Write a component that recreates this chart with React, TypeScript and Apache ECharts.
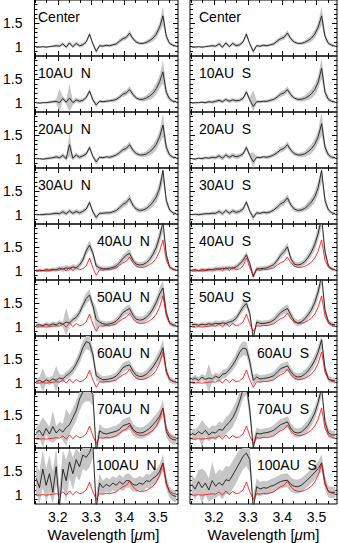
import React, { useEffect, useRef } from "react";
import * as echarts from "echarts";

// ---------------- data ----------------
const wavelength = [3.135, 3.145, 3.155, 3.165, 3.175, 3.185, 3.195, 3.205, 3.215, 3.225, 3.235, 3.245, 3.255, 3.265, 3.275, 3.285, 3.295, 3.305, 3.315, 3.325, 3.335, 3.345, 3.355, 3.365, 3.375, 3.385, 3.395, 3.405, 3.415, 3.425, 3.435, 3.445, 3.455, 3.465, 3.475, 3.485, 3.495, 3.505, 3.515, 3.525, 3.535, 3.545, 3.555];

const xTickLabels = ["3.2", "3.3", "3.4", "3.5"];
const yTickLabels = ["1", "1.5"];

const panelLabelsN = ["Center", "10AU  N", "20AU  N", "30AU  N", "40AU  N", "50AU  N", "60AU  N", "70AU  N", "100AU  N"];
const panelLabelsS = ["Center", "10AU  S", "20AU  S", "30AU  S", "40AU  S", "50AU  S", "60AU  S", "70AU  S", "100AU  S"];

// central spectrum (also the red reference in outer panels)
const fluxCenter = [0.99, 0.99, 1.00, 0.99, 1.00, 1.01, 1.02, 1.01, 1.06, 0.99, 1.08, 1.00, 1.07, 1.02, 1.04, 1.10, 1.27, 1.06, 0.90, 1.02, 1.01, 1.03, 1.02, 1.04, 1.06, 1.12, 1.17, 1.20, 1.29, 1.17, 1.10, 1.07, 1.07, 1.09, 1.13, 1.18, 1.27, 1.42, 1.66, 1.22, 1.07, 1.03, 1.01];
const errCenter = [0.02, 0.02, 0.02, 0.02, 0.02, 0.02, 0.03, 0.03, 0.04, 0.04, 0.04, 0.04, 0.04, 0.04, 0.04, 0.04, 0.05, 0.04, 0.05, 0.03, 0.03, 0.03, 0.03, 0.03, 0.04, 0.05, 0.05, 0.05, 0.06, 0.05, 0.04, 0.03, 0.03, 0.04, 0.05, 0.07, 0.09, 0.10, 0.20, 0.08, 0.04, 0.03, 0.02];

// north side
const flux10N = [1.00, 0.99, 1.00, 1.00, 1.01, 1.02, 1.03, 1.00, 1.09, 1.01, 1.10, 1.00, 1.06, 1.03, 1.05, 1.11, 1.25, 1.06, 0.95, 1.03, 1.02, 1.03, 1.04, 1.05, 1.07, 1.12, 1.18, 1.21, 1.28, 1.18, 1.10, 1.07, 1.07, 1.10, 1.14, 1.20, 1.30, 1.45, 1.66, 1.22, 1.08, 1.03, 1.02];
const err10N = [0.02, 0.02, 0.02, 0.02, 0.03, 0.03, 0.04, 0.30, 0.05, 0.05, 0.30, 0.05, 0.05, 0.05, 0.04, 0.05, 0.06, 0.05, 0.06, 0.03, 0.03, 0.03, 0.03, 0.04, 0.04, 0.05, 0.06, 0.06, 0.07, 0.06, 0.04, 0.04, 0.05, 0.06, 0.08, 0.10, 0.12, 0.14, 0.25, 0.10, 0.05, 0.03, 0.03];
const flux20N = [1.00, 1.00, 0.99, 1.00, 1.01, 1.02, 1.04, 1.02, 1.07, 1.00, 1.30, 1.01, 1.08, 1.03, 1.06, 1.10, 1.24, 1.05, 0.93, 1.03, 1.02, 1.04, 1.03, 1.05, 1.08, 1.13, 1.19, 1.22, 1.30, 1.18, 1.11, 1.08, 1.08, 1.10, 1.15, 1.21, 1.31, 1.47, 1.72, 1.24, 1.08, 1.03, 1.02];
const err20N = [0.02, 0.02, 0.02, 0.03, 0.03, 0.03, 0.04, 0.04, 0.05, 0.05, 0.25, 0.05, 0.05, 0.05, 0.05, 0.05, 0.06, 0.05, 0.06, 0.03, 0.03, 0.03, 0.04, 0.04, 0.04, 0.05, 0.06, 0.06, 0.07, 0.06, 0.05, 0.04, 0.05, 0.06, 0.08, 0.10, 0.12, 0.14, 0.25, 0.10, 0.05, 0.03, 0.03];
const flux30N = [1.00, 1.00, 1.00, 1.01, 1.01, 1.02, 1.03, 1.02, 1.06, 1.02, 1.08, 1.03, 1.07, 1.04, 1.07, 1.12, 1.26, 1.06, 0.94, 1.03, 1.03, 1.04, 1.04, 1.06, 1.09, 1.15, 1.22, 1.26, 1.35, 1.20, 1.12, 1.09, 1.10, 1.13, 1.19, 1.27, 1.38, 1.57, 1.95, 1.30, 1.10, 1.04, 1.02];
const err30N = [0.02, 0.02, 0.03, 0.03, 0.03, 0.03, 0.04, 0.04, 0.05, 0.05, 0.05, 0.05, 0.05, 0.05, 0.05, 0.05, 0.06, 0.05, 0.06, 0.04, 0.03, 0.04, 0.04, 0.04, 0.05, 0.06, 0.07, 0.07, 0.08, 0.06, 0.05, 0.05, 0.05, 0.06, 0.08, 0.10, 0.12, 0.15, 0.25, 0.10, 0.05, 0.03, 0.03];
const flux40N = [1.00, 1.01, 1.00, 1.02, 1.01, 1.03, 1.02, 1.05, 1.03, 1.06, 1.04, 1.08, 1.06, 1.12, 1.23, 1.42, 1.55, 1.38, 1.10, 1.06, 1.04, 1.04, 1.05, 1.07, 1.10, 1.17, 1.26, 1.33, 1.37, 1.22, 1.14, 1.12, 1.13, 1.17, 1.24, 1.35, 1.50, 1.73, 2.05, 1.33, 1.08, 1.03, 1.01];
const err40N = [0.03, 0.03, 0.03, 0.04, 0.04, 0.04, 0.05, 0.05, 0.06, 0.06, 0.06, 0.06, 0.06, 0.07, 0.08, 0.09, 0.10, 0.08, 0.08, 0.05, 0.05, 0.05, 0.05, 0.05, 0.06, 0.07, 0.08, 0.08, 0.09, 0.07, 0.06, 0.06, 0.06, 0.07, 0.08, 0.10, 0.12, 0.15, 0.22, 0.10, 0.05, 0.04, 0.03];
const flux50N = [1.03, 1.04, 1.02, 1.05, 1.03, 1.06, 1.04, 1.08, 1.05, 1.10, 1.08, 1.15, 1.20, 1.30, 1.46, 1.60, 1.68, 1.45, 1.15, 1.10, 1.06, 1.05, 1.06, 1.08, 1.12, 1.20, 1.30, 1.35, 1.39, 1.25, 1.16, 1.14, 1.15, 1.20, 1.27, 1.38, 1.52, 1.70, 1.83, 1.30, 1.08, 1.04, 1.02];
const err50N = [0.04, 0.04, 0.04, 0.05, 0.05, 0.05, 0.06, 0.06, 0.06, 0.30, 0.07, 0.07, 0.08, 0.09, 0.10, 0.12, 0.12, 0.10, 0.25, 0.06, 0.06, 0.06, 0.06, 0.06, 0.07, 0.08, 0.08, 0.09, 0.09, 0.08, 0.07, 0.07, 0.07, 0.08, 0.09, 0.10, 0.12, 0.14, 0.18, 0.10, 0.06, 0.05, 0.04];
const flux60N = [1.02, 1.05, 1.01, 1.06, 1.03, 1.08, 1.05, 1.10, 1.08, 1.15, 1.20, 1.28, 1.40, 1.55, 1.75, 1.88, 1.85, 1.60, 1.15, 1.10, 1.06, 1.07, 1.08, 1.10, 1.14, 1.22, 1.32, 1.36, 1.38, 1.25, 1.16, 1.13, 1.14, 1.18, 1.25, 1.34, 1.45, 1.58, 1.75, 1.25, 1.07, 1.03, 1.01];
const err60N = [0.06, 0.07, 0.30, 0.07, 0.08, 0.08, 0.30, 0.08, 0.09, 0.09, 0.10, 0.10, 0.12, 0.14, 0.15, 0.16, 0.16, 0.14, 0.12, 0.08, 0.08, 0.08, 0.08, 0.08, 0.09, 0.10, 0.10, 0.10, 0.10, 0.09, 0.08, 0.08, 0.08, 0.09, 0.10, 0.11, 0.12, 0.14, 0.18, 0.10, 0.07, 0.06, 0.06];
const flux70N = [1.12, 1.18, 1.06, 1.22, 1.10, 1.26, 1.12, 1.20, 1.14, 1.24, 1.30, 1.45, 1.60, 1.85, 2.00, 2.05, 2.05, 1.95, 0.70, 1.17, 1.12, 1.10, 1.12, 1.14, 1.16, 1.20, 1.28, 1.30, 1.33, 1.20, 1.14, 1.12, 1.13, 1.17, 1.22, 1.30, 1.38, 1.48, 1.65, 1.15, 1.02, 0.98, 0.97];
const err70N = [0.12, 0.15, 0.40, 0.14, 0.15, 0.35, 0.15, 0.16, 0.18, 0.40, 0.20, 0.20, 0.22, 0.25, 0.25, 0.25, 0.25, 0.25, 0.25, 0.15, 0.12, 0.12, 0.12, 0.12, 0.12, 0.13, 0.13, 0.14, 0.14, 0.13, 0.12, 0.12, 0.12, 0.13, 0.14, 0.15, 0.15, 0.15, 0.18, 0.12, 0.10, 0.10, 0.10];
const flux100N = [1.35, 1.15, 1.55, 1.20, 1.45, 1.05, 1.60, 0.75, 1.55, 1.30, 1.70, 1.45, 1.75, 1.60, 1.85, 1.80, 1.90, 2.10, 0.70, 1.25, 1.15, 1.22, 1.18, 1.25, 1.20, 1.28, 1.22, 1.30, 1.30, 1.22, 1.20, 1.25, 1.22, 1.30, 1.28, 1.35, 1.40, 1.50, 1.68, 1.25, 1.05, 0.98, 0.96];
const err100N = [0.30, 0.35, 0.40, 0.35, 0.40, 0.45, 0.40, 0.40, 0.40, 0.45, 0.35, 0.35, 0.35, 0.30, 0.30, 0.30, 0.30, 0.30, 0.30, 0.20, 0.15, 0.15, 0.15, 0.15, 0.15, 0.15, 0.15, 0.15, 0.15, 0.15, 0.15, 0.15, 0.15, 0.15, 0.15, 0.15, 0.15, 0.15, 0.18, 0.15, 0.12, 0.12, 0.12];

// south side
const flux10S = [0.99, 1.00, 1.00, 1.01, 1.00, 1.02, 1.01, 1.03, 1.05, 1.02, 1.07, 1.03, 1.06, 1.04, 1.05, 1.09, 1.23, 1.06, 0.92, 1.02, 1.02, 1.03, 1.03, 1.05, 1.07, 1.12, 1.18, 1.21, 1.28, 1.17, 1.10, 1.07, 1.07, 1.09, 1.13, 1.19, 1.28, 1.44, 1.74, 1.22, 1.07, 1.03, 1.01];
const err10S = [0.02, 0.02, 0.02, 0.02, 0.03, 0.03, 0.03, 0.04, 0.04, 0.04, 0.04, 0.04, 0.04, 0.04, 0.04, 0.05, 0.06, 0.05, 0.35, 0.03, 0.03, 0.03, 0.03, 0.04, 0.04, 0.05, 0.06, 0.06, 0.07, 0.06, 0.04, 0.04, 0.05, 0.06, 0.08, 0.10, 0.12, 0.14, 0.22, 0.10, 0.05, 0.03, 0.03];
const flux20S = [1.00, 0.99, 1.01, 1.00, 1.02, 1.01, 1.03, 1.02, 1.06, 1.01, 1.08, 1.03, 1.07, 1.04, 1.06, 1.10, 1.24, 1.07, 0.93, 1.03, 1.02, 1.04, 1.03, 1.05, 1.08, 1.13, 1.19, 1.22, 1.30, 1.18, 1.11, 1.08, 1.08, 1.10, 1.15, 1.21, 1.31, 1.47, 1.75, 1.24, 1.08, 1.03, 1.02];
const err20S = [0.02, 0.02, 0.02, 0.03, 0.03, 0.03, 0.04, 0.04, 0.05, 0.05, 0.05, 0.05, 0.05, 0.05, 0.05, 0.05, 0.06, 0.05, 0.20, 0.03, 0.03, 0.03, 0.04, 0.04, 0.04, 0.05, 0.06, 0.06, 0.07, 0.06, 0.05, 0.04, 0.05, 0.06, 0.08, 0.10, 0.12, 0.14, 0.25, 0.10, 0.05, 0.03, 0.03];
const flux30S = [1.00, 1.01, 1.00, 1.01, 1.02, 1.02, 1.03, 1.03, 1.07, 1.02, 1.09, 1.03, 1.08, 1.05, 1.07, 1.12, 1.27, 1.07, 0.94, 1.04, 1.03, 1.05, 1.04, 1.06, 1.10, 1.16, 1.23, 1.27, 1.36, 1.21, 1.12, 1.09, 1.10, 1.13, 1.19, 1.27, 1.38, 1.58, 1.95, 1.30, 1.10, 1.04, 1.02];
const err30S = [0.02, 0.02, 0.03, 0.03, 0.03, 0.03, 0.04, 0.04, 0.05, 0.05, 0.05, 0.05, 0.05, 0.05, 0.05, 0.05, 0.06, 0.05, 0.06, 0.04, 0.03, 0.04, 0.04, 0.04, 0.05, 0.06, 0.07, 0.07, 0.08, 0.06, 0.05, 0.05, 0.05, 0.06, 0.08, 0.10, 0.12, 0.15, 0.25, 0.10, 0.05, 0.03, 0.03];
const flux40S = [1.01, 1.02, 1.00, 1.02, 1.01, 1.03, 1.02, 1.04, 1.03, 1.05, 1.04, 1.06, 1.05, 1.08, 1.14, 1.22, 1.34, 1.15, 0.87, 1.04, 1.04, 1.05, 1.06, 1.09, 1.13, 1.22, 1.33, 1.41, 1.51, 1.26, 1.14, 1.12, 1.14, 1.19, 1.28, 1.40, 1.56, 1.80, 2.15, 1.40, 1.10, 1.04, 1.02];
const err40S = [0.03, 0.03, 0.03, 0.04, 0.04, 0.04, 0.05, 0.05, 0.05, 0.05, 0.05, 0.05, 0.05, 0.06, 0.06, 0.07, 0.07, 0.06, 0.08, 0.05, 0.05, 0.05, 0.05, 0.05, 0.06, 0.07, 0.08, 0.08, 0.09, 0.07, 0.06, 0.06, 0.06, 0.07, 0.08, 0.10, 0.12, 0.15, 0.22, 0.10, 0.05, 0.04, 0.03];
const flux50S = [1.04, 1.05, 1.03, 1.05, 1.04, 1.06, 1.05, 1.07, 1.06, 1.08, 1.07, 1.10, 1.12, 1.18, 1.30, 1.42, 1.50, 1.28, 0.75, 1.10, 1.07, 1.07, 1.08, 1.10, 1.14, 1.22, 1.30, 1.35, 1.39, 1.25, 1.12, 1.08, 1.10, 1.16, 1.25, 1.36, 1.52, 1.75, 2.10, 1.35, 1.10, 1.05, 1.04];
const err50S = [0.04, 0.04, 0.04, 0.05, 0.05, 0.05, 0.05, 0.06, 0.06, 0.06, 0.06, 0.06, 0.07, 0.07, 0.08, 0.09, 0.09, 0.08, 0.10, 0.06, 0.06, 0.06, 0.06, 0.06, 0.07, 0.08, 0.08, 0.09, 0.09, 0.08, 0.07, 0.07, 0.07, 0.08, 0.09, 0.10, 0.12, 0.14, 0.20, 0.10, 0.06, 0.05, 0.04];
const flux60S = [1.06, 1.10, 1.05, 1.12, 1.07, 1.10, 1.08, 1.14, 1.10, 1.18, 1.20, 1.28, 1.38, 1.50, 1.65, 1.74, 1.72, 1.45, 1.05, 1.12, 1.08, 1.09, 1.10, 1.12, 1.15, 1.22, 1.30, 1.33, 1.36, 1.24, 1.15, 1.12, 1.13, 1.18, 1.25, 1.35, 1.48, 1.66, 1.92, 1.30, 1.08, 1.05, 1.04];
const err60S = [0.06, 0.07, 0.07, 0.07, 0.08, 0.30, 0.08, 0.08, 0.09, 0.09, 0.10, 0.10, 0.12, 0.13, 0.14, 0.15, 0.15, 0.13, 0.12, 0.08, 0.08, 0.08, 0.08, 0.08, 0.09, 0.10, 0.10, 0.10, 0.10, 0.09, 0.08, 0.08, 0.08, 0.09, 0.10, 0.11, 0.12, 0.14, 0.18, 0.10, 0.07, 0.06, 0.06];
const flux70S = [1.12, 1.08, 1.15, 1.10, 1.18, 1.08, 1.14, 1.12, 1.20, 1.18, 1.28, 1.35, 1.45, 1.60, 1.80, 2.05, 2.15, 1.60, 0.80, 1.12, 1.10, 1.12, 1.13, 1.15, 1.18, 1.24, 1.30, 1.33, 1.36, 1.22, 1.14, 1.12, 1.14, 1.20, 1.28, 1.40, 1.55, 1.78, 2.10, 1.35, 1.12, 1.08, 1.08];
const err70S = [0.10, 0.12, 0.12, 0.30, 0.12, 0.14, 0.14, 0.15, 0.16, 0.16, 0.18, 0.18, 0.20, 0.20, 0.20, 0.20, 0.20, 0.20, 0.20, 0.12, 0.10, 0.10, 0.10, 0.10, 0.11, 0.12, 0.12, 0.12, 0.12, 0.11, 0.10, 0.10, 0.10, 0.11, 0.12, 0.13, 0.14, 0.15, 0.18, 0.12, 0.10, 0.09, 0.09];
const flux100S = [1.22, 1.12, 1.28, 1.15, 1.25, 1.10, 1.30, 1.18, 1.26, 1.20, 1.32, 1.30, 1.42, 1.55, 1.68, 1.82, 1.89, 1.75, 0.70, 1.17, 1.12, 1.15, 1.14, 1.18, 1.20, 1.24, 1.28, 1.30, 1.31, 1.22, 1.18, 1.17, 1.20, 1.26, 1.33, 1.40, 1.48, 1.56, 1.68, 1.25, 1.06, 1.05, 1.05];
const err100S = [0.20, 0.22, 0.25, 0.40, 0.25, 0.25, 0.40, 0.25, 0.28, 0.30, 0.30, 0.30, 0.30, 0.30, 0.28, 0.28, 0.28, 0.28, 0.28, 0.18, 0.15, 0.15, 0.15, 0.15, 0.15, 0.15, 0.15, 0.15, 0.15, 0.15, 0.15, 0.15, 0.15, 0.15, 0.15, 0.15, 0.15, 0.15, 0.18, 0.14, 0.12, 0.12, 0.12];

const fluxN = [fluxCenter, flux10N, flux20N, flux30N, flux40N, flux50N, flux60N, flux70N, flux100N];
const errN = [errCenter, err10N, err20N, err30N, err40N, err50N, err60N, err70N, err100N];
const fluxS = [fluxCenter, flux10S, flux20S, flux30S, flux40S, flux50S, flux60S, flux70S, flux100S];
const errS = [errCenter, err10S, err20S, err30S, err40S, err50S, err60S, err70S, err100S];
// panels (row index) where the central spectrum is overplotted in red
const refRows = [4, 5, 6, 7, 8];

// ---------------- layout ----------------
const FONT = "'Liberation Sans', Arial, Helvetica, sans-serif";
const X_MIN = 3.13, X_MAX = 3.56, Y_MIN = 0.8, Y_MAX = 2.0;
const ROW_H = 56;
const COLS = [
  { left: 29, width: 149 },
  { left: 190, width: 147 },
];
const labelOffsetN = [9, 9, 9, 9, 68, 68, 68, 68, 67];
const labelOffsetS = [9, 9, 9, 9, 9, 9, 67, 67, 67];

function buildOption() {
  const xMajor = xTickLabels.map(Number);
  const yMajor = yTickLabels.map(Number);
  const xMinor: number[] = [];
  for (let k = -2; k <= 10; k++) xMinor.push(+(3.2 + k / 30).toFixed(5));
  const yMinor: number[] = [];
  for (let k = 9; k <= 19; k++) yMinor.push(+(k / 10).toFixed(2));

  const grids: any[] = [];
  const xAxes: any[] = [];
  const yAxes: any[] = [];
  const series: any[] = [];
  const graphics: any[] = [];

  const tickStyle = { color: "#000", width: 1 };

  const mkX = (g: number, pos: string, vals: number[], len: number, labels: boolean) => ({
    type: "value", gridIndex: g, position: pos, min: X_MIN, max: X_MAX,
    axisLine: { show: false, onZero: false }, splitLine: { show: false },
    axisTick: { show: true, inside: true, length: len, customValues: vals, lineStyle: tickStyle },
    axisLabel: labels
      ? {
          show: true, customValues: xMajor, margin: 6, fontSize: 14, color: "#000", fontFamily: FONT,
          formatter: (v: number) => {
            const i = xMajor.findIndex((m) => Math.abs(m - v) < 1e-6);
            return i >= 0 ? xTickLabels[i] : "";
          },
        }
      : { show: false },
  });
  const mkY = (g: number, pos: string, vals: number[], len: number, labels: boolean) => ({
    type: "value", gridIndex: g, position: pos, min: Y_MIN, max: Y_MAX,
    axisLine: { show: false, onZero: false }, splitLine: { show: false },
    axisTick: { show: true, inside: true, length: len, customValues: vals, lineStyle: tickStyle },
    axisLabel: labels
      ? {
          show: true, customValues: yMajor, margin: 12, fontSize: 14, color: "#000", fontFamily: FONT,
          formatter: (v: number) => {
            const i = yMajor.findIndex((m) => Math.abs(m - v) < 1e-6);
            return i >= 0 ? yTickLabels[i] : "";
          },
        }
      : { show: false },
  });

  const clampY = (v: number) => Math.max(Y_MIN, Math.min(Y_MAX, v));

  let g = 0;
  for (let c = 0; c < 2; c++) {
    const fluxes = c === 0 ? fluxN : fluxS;
    const errs = c === 0 ? errN : errS;
    const labels = c === 0 ? panelLabelsN : panelLabelsS;
    const offs = c === 0 ? labelOffsetN : labelOffsetS;
    for (let r = 0; r < 9; r++) {
      const top = r * ROW_H;
      grids.push({
        left: COLS[c].left, top, width: COLS[c].width, height: ROW_H,
        show: true, borderColor: "#000", borderWidth: 1, backgroundColor: "transparent",
      });
      const xi = xAxes.length;
      xAxes.push(mkX(g, "bottom", xMajor, 5, r === 8));
      xAxes.push(mkX(g, "bottom", xMinor, 3, false));
      xAxes.push(mkX(g, "top", xMajor, 5, false));
      xAxes.push(mkX(g, "top", xMinor, 3, false));
      const yi = yAxes.length;
      yAxes.push(mkY(g, "left", yMajor, 5, c === 0));
      yAxes.push(mkY(g, "left", yMinor, 3, false));
      yAxes.push(mkY(g, "right", yMajor, 5, false));
      yAxes.push(mkY(g, "right", yMinor, 3, false));

      const flux = fluxes[r];
      const err = errs[r];
      // grey band (spread of the spectrum)
      series.push({
        type: "custom", xAxisIndex: xi, yAxisIndex: yi, silent: true, clip: true, z: 1,
        data: wavelength.map((x, k) => [x, flux[k] - err[k], flux[k] + err[k]]),
        encode: { x: 0, y: [1, 2] },
        renderItem: (params: any, api: any) => {
          if (params.dataIndex !== 0) return null;
          const pts: number[][] = [];
          for (let k = 0; k < wavelength.length; k++) pts.push(api.coord([wavelength[k], clampY(flux[k] + err[k])]));
          for (let k = wavelength.length - 1; k >= 0; k--) pts.push(api.coord([wavelength[k], clampY(flux[k] - err[k])]));
          return { type: "polygon", shape: { points: pts }, style: { fill: "#c6c6c6", stroke: null } };
        },
      });
      series.push({
        type: "line", xAxisIndex: xi, yAxisIndex: yi, symbol: "none", silent: true,
        data: wavelength.map((x, k) => [x, flux[k]]),
        lineStyle: { width: 0.9, color: "#1a1a1a" }, z: 2,
      });
      if (refRows.includes(r)) {
        series.push({
          type: "line", xAxisIndex: xi, yAxisIndex: yi, symbol: "none", silent: true,
          data: wavelength.map((x, k) => [x, fluxCenter[k]]),
          lineStyle: { width: 0.8, color: "#ff0000" }, z: 3,
        });
      }
      graphics.push({
        type: "text", x: COLS[c].left + offs[r], y: top + 17, z: 10,
        style: { text: labels[r], fontSize: 14, fontFamily: FONT, fill: "#000", align: "left", verticalAlign: "middle" },
      });
      g++;
    }
    graphics.push({
      type: "text", x: COLS[c].left + COLS[c].width / 2, y: 534, z: 10,
      style: {
        text: "Wavelength [{i|μ}m]", fontSize: 15, fontFamily: FONT, fill: "#000",
        align: "center", verticalAlign: "middle",
        rich: { i: { fontStyle: "italic", fontSize: 15, fontFamily: FONT, fill: "#000" } },
      },
    });
  }

  return {
    animation: false,
    backgroundColor: "#ffffff",
    grid: grids,
    xAxis: xAxes,
    yAxis: yAxes,
    series,
    graphic: graphics,
  };
}

export default function App() {
  const ref = useRef<HTMLDivElement>(null);
  useEffect(() => {
    if (!ref.current) return;
    const chart = echarts.init(ref.current, undefined, { renderer: "svg" });
    chart.setOption(buildOption() as any);
    return () => chart.dispose();
  }, []);
  return (
    <div
      ref={ref}
      style={{ position: "fixed", left: 0, top: 0, width: 339, height: 543, background: "#fff" }}
    />
  );
}
